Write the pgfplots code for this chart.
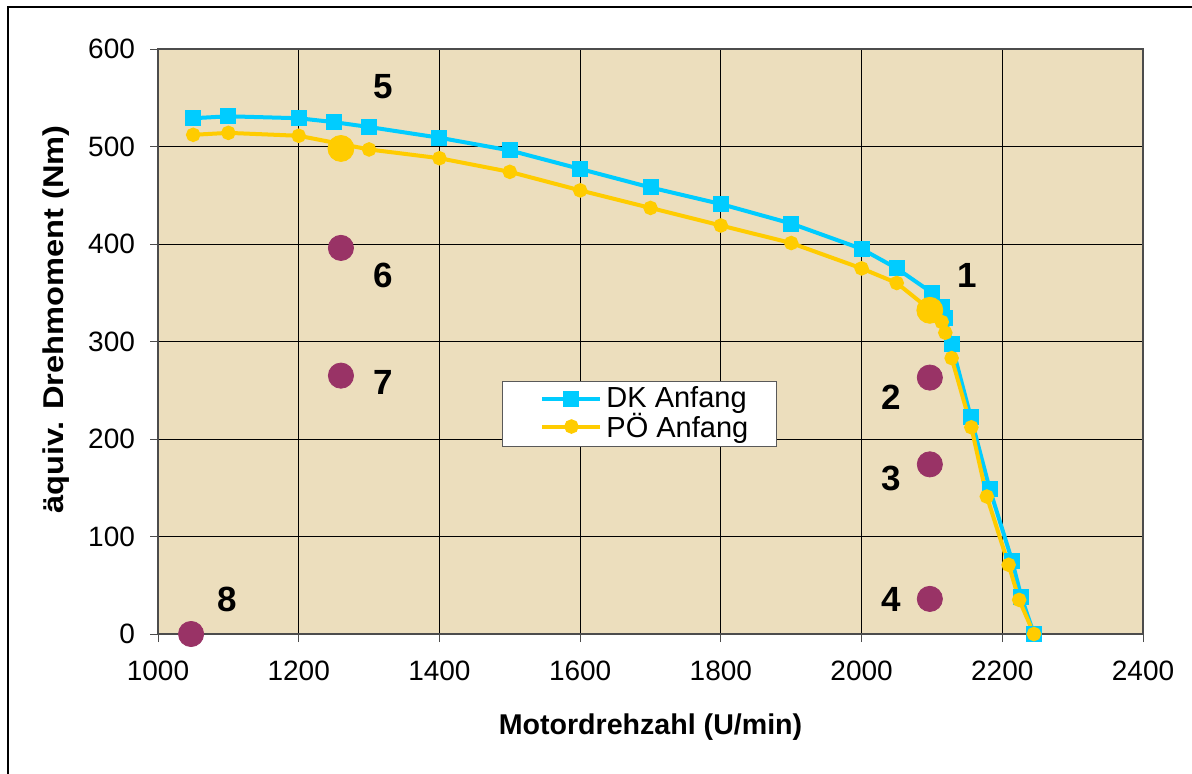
\documentclass[border=0pt]{standalone}
\usepackage{fontspec}
\setmainfont{Liberation Sans}
\usepackage{pgfplots}
\pgfplotsset{compat=1.18}
\definecolor{bg}{RGB}{236,222,189}
\definecolor{dkblue}{RGB}{0,204,255}
\definecolor{poyel}{RGB}{255,204,0}
\definecolor{purp}{RGB}{153,51,102}
\begin{document}
\begin{tikzpicture}
\useasboundingbox (0,0) rectangle (596pt,386.5pt);
\draw[line width=1pt] (3.8pt,-5pt) -- (3.8pt,382.8pt) -- (600pt,382.8pt);
\begin{axis}[
  at={(79pt,69.5pt)}, anchor=south west,
  width=492.5pt, height=292.5pt, scale only axis,
  xmin=1000, xmax=2400, ymin=0, ymax=600,
  xtick={1000,1200,...,2400}, ytick={0,100,...,600},
  xtick pos=lower, ytick pos=left,
  grid=major, major grid style={black, line width=0.5pt},
  axis background/.style={fill=bg},
  axis line style={gray!60!black, line width=0.6pt},
  tick align=outside, tick style={black!70, line width=0.5pt},
  major tick length=4pt,
  /pgf/number format/assume math mode=true,
  /pgf/number format/1000 sep={},
  ticklabel style={font=\fontsize{14}{16}\selectfont},
  xticklabel style={yshift=-6pt},
  yticklabel style={xshift=-4pt},
  xlabel={Motordrehzahl (U/min)},
  ylabel={äquiv. Drehmoment (Nm)},
  xlabel style={font=\fontsize{14.3}{16}\selectfont\bfseries, at={(axis description cs:0.5,-0.159)}, anchor=center},
  ylabel style={font=\fontsize{14.3}{16}\selectfont\bfseries, at={(axis description cs:-0.1036,0.5376)}, anchor=center, xscale=1.14},
  clip=false,
  legend style={at={(axis cs:1489,260)}, anchor=north west, draw=gray!70!black, fill=white,
    font=\fontsize{14.5}{14.5}\selectfont, inner xsep=12pt, inner ysep=1pt, row sep=-3pt},
  legend cell align=left,
  legend image code/.code={\path (-7pt,0pt); \draw[mark repeat=2,mark phase=2,#1] plot coordinates {(0pt,0pt) (14.5pt,0pt) (29pt,0pt)};},
]
\addplot[dkblue, line width=2pt, mark=square*, mark size=3pt, mark options={solid}] coordinates {
(1050,529) (1100,531) (1200,529) (1250,525) (1300,520) (1400,509) (1500,496) (1600,477)
(1700,458) (1800,441) (1900,421) (2000,395) (2050,375) (2100,350) (2114,335) (2119,324)
(2128,297) (2155,223) (2182,149) (2214,75) (2227,38) (2245,0)};
\addlegendentry{DK Anfang}
\addplot[poyel, line width=2pt, mark=*, mark size=2.6pt, mark options={solid}] coordinates {
(1050,512) (1100,514) (1200,511) (1300,497) (1400,488) (1500,474) (1600,455) (1700,437)
(1800,419) (1900,401) (2000,375) (2050,360) (2100,331) (2114,320) (2119,309) (2128,283)
(2156,212) (2178,141) (2209,71) (2224,35) (2245,0)};
\addlegendentry{PÖ Anfang}
\addplot[only marks, mark=*, mark size=6.5pt, color=poyel, forget plot] coordinates {(1260,498) (2097,332)};
\addplot[only marks, mark=*, mark size=6.3pt, color=purp, forget plot] coordinates {
(1260,396) (1260,265) (2097,263) (2097,174) (2097,36) (1047,0)};
\begin{scope}[every node/.style={font=\fontsize{17.5}{18}\selectfont\bfseries}]
\node at (axis cs:1320,561) {5};
\node at (axis cs:1320,368) {6};
\node at (axis cs:1320,258) {7};
\node at (axis cs:2150,368) {1};
\node at (axis cs:2042,243) {2};
\node at (axis cs:2042,160) {3};
\node at (axis cs:2042,35) {4};
\node at (axis cs:1098,35) {8};
\end{scope}
\end{axis}
\end{tikzpicture}
\end{document}
